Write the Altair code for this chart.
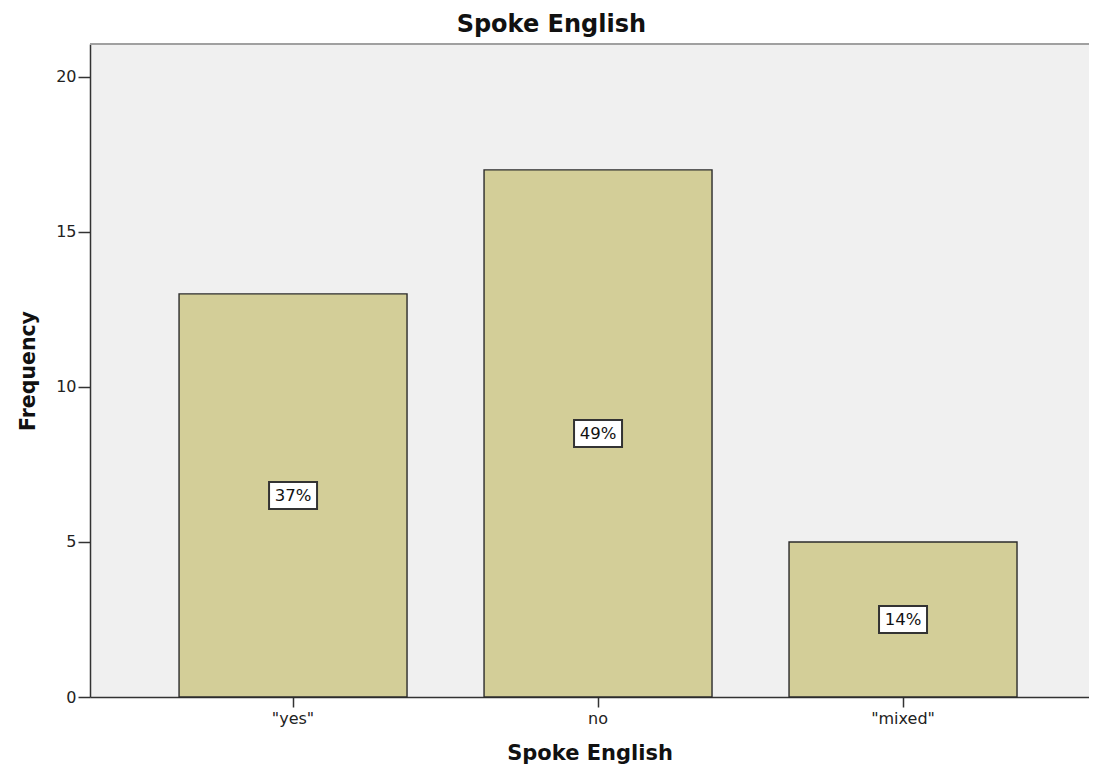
import altair as alt
import pandas as pd

categories = ['"yes"', 'no', '"mixed"']
counts = [13, 17, 5]
pct_labels = ['37%', '49%', '14%']

df = pd.DataFrame({"cat": categories, "count": counts, "pct": pct_labels})

W, H = 999, 653
FONT = "DejaVu Sans"

xscale = alt.Scale(paddingInner=0.2525, paddingOuter=0.264, align=0.553)
yscale = alt.Scale(domain=[0, 21.06], nice=False)

xaxis = alt.Axis(labelAngle=0, tickSize=10, labelPadding=3, titlePadding=16,
                 domainColor="#333333", domainWidth=1.5, tickColor="#333333",
                 tickWidth=1.5, labelFont=FONT, labelFontSize=16, labelColor="#222222",
                 titleFont=FONT, titleFontSize=21, titleFontWeight="bold", titleColor="#111111")
yaxis = alt.Axis(values=[0, 5, 10, 15, 20], grid=False, tickSize=12, labelPadding=2,
                 titlePadding=17, domainColor="#333333", domainWidth=1.5,
                 tickColor="#333333", tickWidth=1.5, labelFont=FONT, labelFontSize=16,
                 labelColor="#222222", titleFont=FONT, titleFontSize=20.5,
                 titleFontWeight="bold", titleColor="#111111")

x = alt.X("cat:N", sort=categories, scale=xscale, title="Spoke English", axis=xaxis)

base = alt.Chart(df)

bars = base.mark_bar(color="#D3CE98", stroke="#2b2b2b", strokeWidth=1.4).encode(
    x=x,
    y=alt.Y("count:Q", scale=yscale, title="Frequency", axis=yaxis),
)

box = base.transform_calculate(mid="datum.count / 2").mark_point(
    shape="M-1,-0.5625L1,-0.5625L1,0.5625L-1,0.5625Z",
    size=2304, filled=True, fill="white", stroke="#333333",
    strokeWidth=2, opacity=1, fillOpacity=1,
).encode(
    x=x,
    y=alt.Y("mid:Q", scale=yscale, title="Frequency", axis=yaxis),
)

txt = base.transform_calculate(mid="datum.count / 2").mark_text(
    font=FONT, fontSize=16.5, color="#111111", baseline="middle", align="center", dy=1,
).encode(
    x=x,
    y=alt.Y("mid:Q", scale=yscale, title="Frequency", axis=yaxis),
    text="pct:N",
)

border = base.mark_rule(color="#a0a0a0", strokeWidth=2).encode(y=alt.value(0))

chart = alt.layer(bars, box, txt, border).properties(
    width=W, height=H,
    background="white",
    autosize=alt.AutoSizeParams(type="none"),
    padding={"left": 82, "top": 36, "right": 0, "bottom": 67},
    title=alt.Title("Spoke English", font=FONT, fontSize=24, fontWeight="bold",
                    color="#111111", anchor="middle", frame="bounds", offset=6, dx=-3),
).configure_view(fill="#F0F0F0", strokeWidth=0)

chart.save("out.html", embed_options={"renderer": "svg", "actions": False})
